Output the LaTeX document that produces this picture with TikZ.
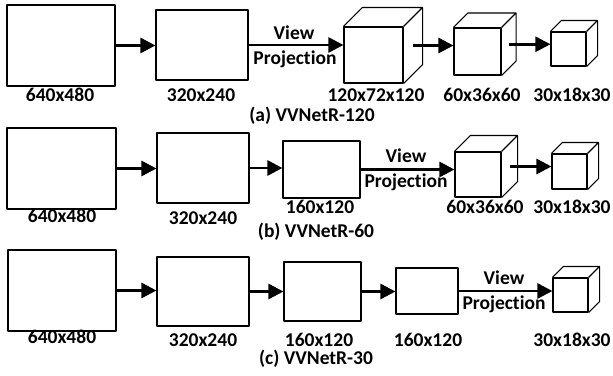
\documentclass[tikz,border=0pt]{standalone}
\usepackage{fontspec}
\setmainfont{Carlito}[Ligatures=CommonOff]
\usetikzlibrary{arrows.meta,calc}

% back faces of a cube whose front face is node #1, depth #2
\newcommand{\cubeback}[2]{%
  \draw[plane] (#1.north west) -- ++(#2,-#2) -- ($(#1.north east)+(#2,-#2)$)
    -- ($(#1.south east)+(#2,-#2)$) -- (#1.south east)
    (#1.north east) -- ++(#2,-#2);
  \coordinate (#1-side) at ($(#1.east)+(0.5*#2,-0.5*#2)$);
}

\begin{document}
\begin{tikzpicture}[x=1pt, y=-1pt,
    plane/.style={draw, line width=1.1pt, line join=round, inner sep=0pt},
    link/.style={line width=2.6pt, -{Triangle[length=15pt,width=15pt]}},
    tag/.style={font=\bfseries\fontsize{19.5}{21}\selectfont, anchor=base, inner sep=0pt}]
  \useasboundingbox (0,0) rectangle (613,375);

  % (a) VVNetR-120
  \node[plane, minimum width=108pt, minimum height=81pt] (a1) at (61,45.5) {};
  \node[plane, minimum width=92pt, minimum height=70pt] (a2) at (202,45) {};
  \node[plane, minimum width=59pt, minimum height=56pt] (a3) at (373.5,55) {};
  \cubeback{a3}{19}
  \node[plane, minimum width=47pt, minimum height=47pt] (a4) at (477.5,51.5) {};
  \cubeback{a4}{14.5}
  \node[plane, minimum width=35pt, minimum height=34pt] (a5) at (568.5,49) {};
  \cubeback{a5}{11}
  \draw[link] (a1.east) -- (a1.east -| a2.west);
  \draw[link] (a2.east) -- (a2.east -| a3.west);
  \draw[link] (a3-side) -- (a3-side -| a4.west);
  \draw[link] (a4-side) -- (a4-side -| a5.west);
  \node[tag] (a-view) at (294,39) {View};
  \node[tag] (a-proj) at (295,64) {Projection};
  \node[tag] (a1-dim) at (60,101) {640x480};
  \node[tag] (a2-dim) at (201,101) {320x240};
  \node[tag] (a3-dim) at (376,101) {120x72x120};
  \node[tag] (a4-dim) at (482,101) {60x36x60};
  \node[tag] (a5-dim) at (572,101) {30x18x30};
  \node[tag] (a-cap) at (312,121) {(a) VVNetR-120};

  % (b) VVNetR-60
  \node[plane, minimum width=109pt, minimum height=81pt] (b1) at (61.5,168.5) {};
  \node[plane, minimum width=92pt, minimum height=70pt] (b2) at (203,168) {};
  \node[plane, minimum width=77pt, minimum height=57pt] (b3) at (321.5,169.5) {};
  \node[plane, minimum width=46pt, minimum height=45pt] (b4) at (478,174.5) {};
  \cubeback{b4}{16}
  \node[plane, minimum width=35pt, minimum height=35pt] (b5) at (569.5,171.5) {};
  \cubeback{b5}{11}
  \draw[link] (b1.east) -- (b1.east -| b2.west);
  \draw[link] (b2.east) -- (b2.east -| b3.west);
  \draw[link] (b3.east) -- (b3.east -| b4.west);
  \draw[link] (b4-side) -- (b4-side -| b5.west);
  \node[tag] (b-view) at (406,162) {View};
  \node[tag] (b-proj) at (406,187) {Projection};
  \node[tag] (b1-dim) at (62,222) {640x480};
  \node[tag] (b2-dim) at (203,224) {320x240};
  \node[tag] (b3-dim) at (320,213) {160x120};
  \node[tag] (b4-dim) at (485,213) {60x36x60};
  \node[tag] (b5-dim) at (572,213) {30x18x30};
  \node[tag] (b-cap) at (316,237) {(b) VVNetR-60};

  % (c) VVNetR-30
  \node[plane, minimum width=108pt, minimum height=81pt] (c1) at (62,290.5) {};
  \node[plane, minimum width=92pt, minimum height=69pt] (c2) at (203,291.5) {};
  \node[plane, minimum width=77pt, minimum height=59pt] (c3) at (322.5,291.5) {};
  \node[plane, minimum width=62pt, minimum height=46pt] (c4) at (427,291) {};
  \node[plane, minimum width=35pt, minimum height=34pt] (c5) at (570.5,295) {};
  \cubeback{c5}{11}
  \draw[link] (c1.east) -- (c1.east -| c2.west);
  \draw[link] (c2.east) -- (c2.east -| c3.west);
  \draw[link] (c3.east) -- (c3.east -| c4.west);
  \draw[link] (c4.east) -- (c4.east -| c5.west);
  \node[tag] (c-view) at (504,284) {View};
  \node[tag] (c-proj) at (504,309) {Projection};
  \node[tag] (c1-dim) at (62,343) {640x480};
  \node[tag] (c2-dim) at (203,346) {320x240};
  \node[tag] (c3-dim) at (319,346) {160x120};
  \node[tag] (c4-dim) at (428,346) {160x120};
  \node[tag] (c5-dim) at (572,346) {30x18x30};
  \node[tag] (c-cap) at (316,364) {(c) VVNetR-30};
\end{tikzpicture}
\end{document}
